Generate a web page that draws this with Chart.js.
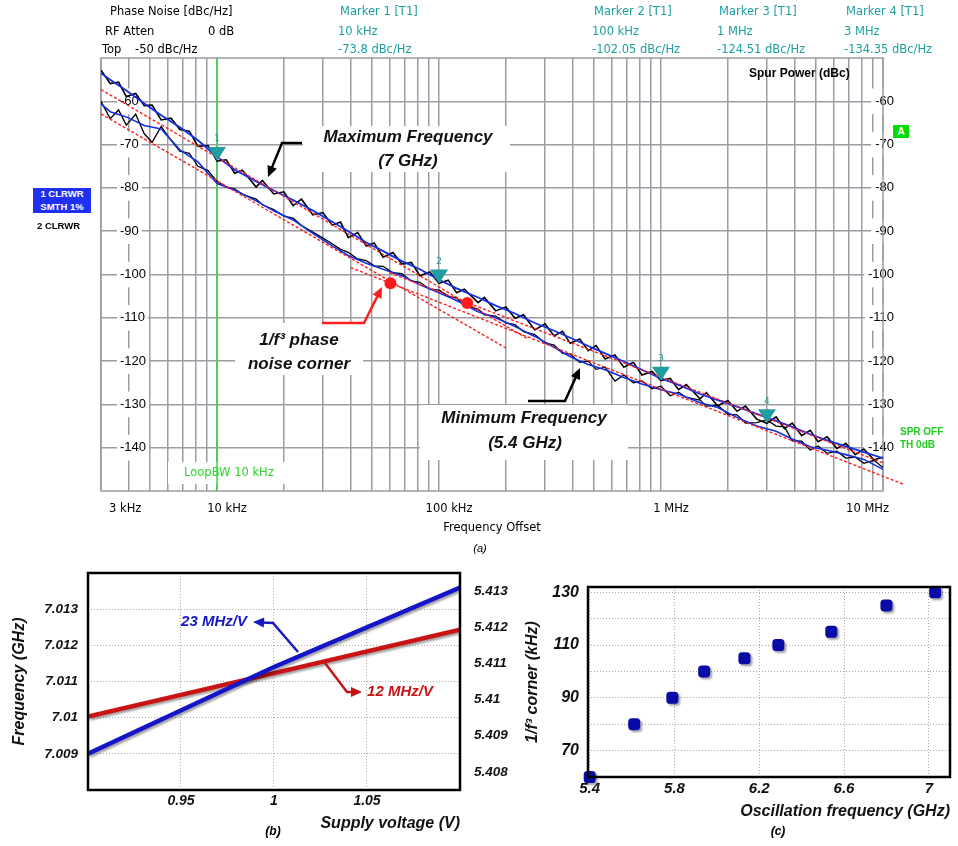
<!DOCTYPE html>
<html>
<head>
<meta charset="utf-8">
<script src="https://cdn.jsdelivr.net/npm/chart.js@4.4.1/dist/chart.umd.min.js"></script>
<style>
  body { margin: 0; background: #fff; width: 958px; height: 846px; position: relative; overflow: hidden; font-family: "DejaVu Sans", sans-serif; }
  canvas { position: absolute; }
  .t { position: absolute; white-space: nowrap; font-size: 11.5px; line-height: 14px; color: #000; }
  .cap { position: absolute; transform: translateX(-50%); font: italic 11px "Liberation Sans", sans-serif; white-space: nowrap; }
</style>
</head>
<body>
<canvas id="chartA" width="958" height="560" style="left:0;top:0"></canvas>
<canvas id="chartB" width="520" height="306" style="left:0;top:540px"></canvas>
<canvas id="chartC" width="438" height="306" style="left:520px;top:540px"></canvas>
<div id="overlay"></div>
<script>
// ---------- (a) phase noise ----------
const freqRaw = [3000, 3300, 3600, 3900, 4300, 4700, 5100, 5600, 6200, 6800, 7500, 8200, 9100,
  10000, 11000, 12000, 13000, 15000, 16000, 18000, 20000, 22000, 24000, 27000, 30000, 33000, 36000, 39000, 43000, 47000, 51000, 56000, 62000, 68000, 75000, 82000, 91000,
  100000, 110000, 120000, 130000, 150000, 160000, 180000, 200000, 220000, 240000, 270000, 300000, 330000, 360000, 390000, 430000, 470000, 510000, 560000, 620000, 680000, 750000, 820000, 910000,
  1000000, 1100000, 1200000, 1300000, 1500000, 1600000, 1800000, 2000000, 2200000, 2400000, 2700000, 3000000, 3300000, 3600000, 3900000, 4300000, 4700000, 5100000, 5600000, 6200000, 6800000, 7500000, 8200000, 9100000,
  10000000];

// 7 GHz, raw trace (black)
const maxRaw = [-52.8, -55.9, -55.6, -58.9, -58.2, -61.0, -60.9, -64.3, -63.9, -66.5, -66.9, -70.4, -70.2,
  -73.8, -73.5, -76.6, -75.9, -79.8, -78.3, -81.4, -80.9, -84.1, -82.6, -86.2, -85.7, -88.6, -87.9, -91.5, -90.3, -93.4, -92.7, -96.0, -94.9, -97.6, -97.2, -100.3, -99.4,
  -102.05, -101.3, -104.2, -103.4, -106.5, -105.3, -108.4, -107.5, -110.1, -109.3, -112.8, -111.4, -114.2, -113.1, -115.9, -114.9, -117.6, -116.4, -119.5, -118.6, -121.4, -120.3, -123.2, -122.4,
  -124.51, -124.0, -126.6, -125.4, -128.7, -127.3, -130.3, -129.1, -131.6, -130.4, -133.4, -134.35, -132.9, -135.6, -134.3, -137.2, -136.0, -138.6, -137.5, -140.2, -139.0, -141.6, -140.3, -142.8,
  -142.2];

// 5.4 GHz, raw trace (black)
const minRaw = [-60.0, -64.0, -62.0, -65.5, -63.0, -67.5, -69.5, -65.8, -69.0, -71.5, -72.0, -75.0, -76.0,
  -78.5, -79.8, -80.2, -81.5, -82.6, -83.9, -85.0, -86.5, -87.0, -88.7, -90.2, -91.6, -92.9, -94.2, -94.9, -96.4, -96.8, -98.0, -98.1, -99.6, -99.8, -101.5, -101.8, -103.4,
  -103.6, -105.0, -105.4, -107.2, -108.0, -109.3, -109.6, -111.2, -111.6, -113.2, -113.9, -115.8, -116.3, -118.2, -118.4, -120.3, -120.0, -121.9, -121.4, -124.6, -123.2, -125.0, -124.6, -126.4,
  -125.8, -128.0, -127.2, -128.4, -129.0, -130.4, -130.2, -132.3, -132.4, -134.3, -134.2, -133.6, -135.0, -135.2, -138.4, -138.5, -140.5, -139.6, -141.3, -140.8, -142.4, -142.2, -143.6, -142.9,
  -144.6];

const freqSmooth = [3000, 3300, 3900, 4700, 5600, 6800, 8200,
  10000, 12000, 15000, 18000, 22000, 27000, 33000, 39000, 47000, 56000, 68000, 82000,
  100000, 120000, 150000, 180000, 220000, 270000, 330000, 390000, 470000, 560000, 680000, 820000,
  1000000, 1200000, 1500000, 1800000, 2200000, 2700000, 3300000, 3900000, 4700000, 5600000, 6800000, 8200000,
  10000000];

// smoothed traces (blue)
const maxSmooth = [-53.5, -55.0, -57.5, -60.5, -63.2, -66.0, -69.0,
  -72.8, -75.8, -78.5, -80.6, -82.8, -85.2, -87.8, -90.0, -92.6, -94.6, -96.9, -98.8,
  -101.2, -103.2, -105.3, -107.2, -109.0, -111.2, -113.0, -114.6, -116.5, -118.2, -120.1, -122.0,
  -124.0, -125.5, -127.6, -129.0, -130.5, -132.2, -133.8, -135.2, -136.9, -138.3, -139.7, -141.0,
  -142.4];
const minSmooth = [-60.6, -62.4, -63.6, -65.6, -66.4, -71.2, -74.0,
  -79.0, -80.5, -83.0, -85.3, -87.4, -90.5, -93.4, -95.6, -97.4, -98.8, -100.3, -102.4,
  -104.2, -106.0, -108.6, -110.0, -112.0, -114.3, -116.8, -119.0, -120.8, -122.0, -123.8, -125.3,
  -126.6, -127.6, -129.6, -130.7, -133.0, -135.0, -136.2, -138.0, -139.8, -140.6, -141.6, -142.7,
  -145.0];

// fitted 1/f^3 and 1/f^2 lines (end points)
const fitMax3F = [3000, 250000], fitMax3V = [-57.3, -114.8];
const fitMax2F = [60000, 10000000], fitMax2V = [-99.6, -143.5];
const fitMin3F = [3000, 200000], fitMin3V = [-62.9, -117.0];
const fitMin2F = [40000, 12300000], fitMin2V = [-98.4, -148.4];

const cornerF = [60400, 134000];
const cornerV = [-102.0, -106.6];

const loopBwF = 10000;

const markerFreqs = [10000, 100000, 1000000, 3000000];
const markerFreqText = ['10 kHz', '100 kHz', '1 MHz', '3 MHz'];
const markerVals = [-73.8, -102.05, -124.51, -134.35];

const yTicksA = [-140, -130, -120, -110, -100, -90, -80, -70, -60];
const xLabelVals = [3000, 10000, 100000, 1000000, 10000000];
const xLabelText = ['3 kHz', '10 kHz', '100 kHz', '1 MHz', '10 MHz'];

// ---------- (b) supply pushing ----------
const supplyV = [0.9, 1.0, 1.1];
const freqHigh = [7.0090, 7.0114, 7.0136];
const freqLow = [5.40953, 5.41073, 5.41193];
const xTicksB = [0.95, 1, 1.05];
const yTicksB = [7.009, 7.01, 7.011, 7.012, 7.013];
const y1TicksB = [5.408, 5.409, 5.41, 5.411, 5.412, 5.413];

// ---------- (c) corner vs frequency ----------
const oscFreq = [5.4, 5.61, 5.79, 5.94, 6.13, 6.29, 6.54, 6.8, 7.03];
const cornerKHz = [60, 80, 90, 100, 105, 110, 115, 125, 130];
const xTicksC = [5.4, 5.8, 6.2, 6.6, 7];
const yTicksC = [70, 80, 90, 100, 110, 120, 130];

const SANS = '"Liberation Sans", Arial, sans-serif';
const DV = '"DejaVu Sans", Verdana, sans-serif';
const GRID = '#9c9ca4';
const TEAL = '#1e9e9e';
const TRACE_BLUE = '#1430e0';
const FIT_RED = '#ff1e1e';

Chart.defaults.font.family = SANS;

const zip = (xs, ys) => xs.map((x, i) => ({ x, y: ys[i] }));

function arrow(ctx, pts, color, width) {
  ctx.save();
  ctx.strokeStyle = color;
  ctx.fillStyle = color;
  ctx.lineWidth = width;
  const n = pts.length;
  const [x1, y1] = pts[n - 2];
  const [x2, y2] = pts[n - 1];
  const a = Math.atan2(y2 - y1, x2 - x1);
  const L = 11, H = 5;
  ctx.beginPath();
  ctx.moveTo(pts[0][0], pts[0][1]);
  for (let i = 1; i < n - 1; i++) ctx.lineTo(pts[i][0], pts[i][1]);
  ctx.lineTo(x2 - L * 0.8 * Math.cos(a), y2 - L * 0.8 * Math.sin(a));
  ctx.stroke();
  ctx.beginPath();
  ctx.moveTo(x2, y2);
  ctx.lineTo(x2 - L * Math.cos(a) + H * Math.sin(a), y2 - L * Math.sin(a) - H * Math.cos(a));
  ctx.lineTo(x2 - L * Math.cos(a) - H * Math.sin(a), y2 - L * Math.sin(a) + H * Math.cos(a));
  ctx.closePath();
  ctx.fill();
  ctx.restore();
}

function lineSet(data, color, width, order, extra) {
  return Object.assign({ data, borderColor: color, borderWidth: width, pointRadius: 0, tension: 0, order }, extra || {});
}

// ---------- chart (a) ----------
const decorA = {
  id: 'decorA',
  beforeDatasetsDraw(chart) {
    const { ctx, chartArea: a } = chart;
    ctx.save();
    ctx.strokeStyle = GRID;
    ctx.lineWidth = 1.5;
    ctx.strokeRect(a.left, a.top, a.right - a.left, a.bottom - a.top);
    ctx.fillStyle = '#fff';
    ctx.fillRect(303, 126, 207, 46);
    ctx.fillRect(235, 323, 128, 52);
    ctx.fillRect(420, 405, 208, 55);
    ctx.fillRect(168, 462, 118, 22);
    ctx.restore();
  },
  afterDatasetsDraw(chart) {
    const { ctx, chartArea: a } = chart;
    const xs = chart.scales.x, ys = chart.scales.y;
    ctx.save();
    // markers
    markerFreqs.forEach((f, i) => {
      const x = xs.getPixelForValue(f), y = ys.getPixelForValue(markerVals[i]);
      ctx.fillStyle = TEAL;
      ctx.beginPath();
      ctx.moveTo(x, y);
      ctx.lineTo(x - 9, y - 14);
      ctx.lineTo(x + 9, y - 14);
      ctx.closePath();
      ctx.fill();
      ctx.font = '9px ' + DV;
      ctx.textAlign = 'center';
      ctx.textBaseline = 'middle';
      ctx.fillText(String(i + 1), x, y - 22);
    });
    // x tick labels
    ctx.font = '11.5px ' + DV;
    ctx.fillStyle = '#000';
    ctx.textAlign = 'left';
    ctx.textBaseline = 'middle';
    xLabelVals.forEach((v, i) => {
      const t = xLabelText[i];
      const w = ctx.measureText(t).width;
      let left = xs.getPixelForValue(v) + 10 - w / 2;
      left = Math.max(left, a.left + 8);
      left = Math.min(left, a.right + 6 - w);
      ctx.fillText(t, left, 509);
    });
    // loop bandwidth label
    ctx.fillStyle = '#2ad42a';
    ctx.fillText('LoopBW 10 kHz', xs.getPixelForValue(loopBwF) - 33, 473);
    // annotations
    ctx.fillStyle = '#111';
    ctx.textAlign = 'center';
    ctx.font = 'italic bold 17px ' + SANS;
    ctx.fillText('Maximum Frequency', 408, 137);
    ctx.fillText('(7 GHz)', 408, 161);
    ctx.fillText('1/f\u00b3 phase', 299, 340);
    ctx.fillText('noise corner', 299, 364);
    ctx.fillText('Minimum Frequency', 524, 418);
    ctx.fillText('(5.4 GHz)', 525, 443);
    ctx.restore();
    arrow(ctx, [[302, 143], [282, 143], [268, 177]], '#000', 2.5);
    arrow(ctx, [[322, 323], [364, 323], [382, 287]], '#ff1e1e', 2.5);
    arrow(ctx, [[528, 401], [565, 401], [580, 368]], '#000', 2.5);
  }
};

new Chart(document.getElementById('chartA'), {
  type: 'line',
  data: {
    datasets: [
      lineSet(zip([loopBwF, loopBwF], [-50, -150]), '#33dd33', 1.5, 10),
      lineSet(zip(freqRaw, maxRaw), '#000', 1.6, 8),
      lineSet(zip(freqRaw, minRaw), '#000', 1.3, 8),
      lineSet(zip(freqSmooth, maxSmooth), TRACE_BLUE, 1.8, 6),
      lineSet(zip(freqSmooth, minSmooth), TRACE_BLUE, 1.6, 6),
      lineSet(zip(fitMax3F, fitMax3V), FIT_RED, 1.4, 4, { borderDash: [3, 2] }),
      lineSet(zip(fitMax2F, fitMax2V), FIT_RED, 1.4, 4, { borderDash: [3, 2] }),
      lineSet(zip(fitMin3F, fitMin3V), FIT_RED, 1.4, 4, { borderDash: [3, 2] }),
      lineSet(zip(fitMin2F, fitMin2V), FIT_RED, 1.4, 4, { borderDash: [3, 2], clip: false }),
      lineSet(zip(cornerF, cornerV), '#ff1a1a', 0, 2, { showLine: false, pointRadius: 6, pointBackgroundColor: '#ff1a1a', pointBorderWidth: 0 })
    ]
  },
  options: {
    animation: false,
    responsive: false,
    layout: { padding: { top: 58, left: 0, right: 0, bottom: 0 } },
    plugins: { legend: { display: false }, tooltip: { enabled: false } },
    scales: {
      x: {
        type: 'logarithmic',
        min: 3000,
        max: 10000000,
        afterBuildTicks: (s) => {
          const ticks = [];
          for (let d = 1000; d <= 1000000; d *= 10) {
            for (let m = 1; m <= 9; m++) {
              const v = m * d;
              if (v >= 3000) ticks.push({ value: v });
            }
          }
          ticks.push({ value: 10000000 });
          s.ticks = ticks;
        },
        afterFit: (s) => { s.height = 69; },
        grid: { color: GRID, lineWidth: 1.5, drawTicks: false },
        border: { display: false },
        ticks: { display: false },
        title: { display: true, text: 'Frequency Offset', color: '#000', font: { family: DV, size: 11.5 }, padding: { top: 0, bottom: 25 } }
      },
      y: {
        min: -150,
        max: -50,
        afterBuildTicks: (s) => { s.ticks = yTicksA.map((v) => ({ value: v })); },
        afterFit: (s) => { s.width = 101; },
        grid: { color: GRID, lineWidth: 1.5, drawTicks: false },
        border: { display: false },
        ticks: {
          mirror: true, padding: 19, color: '#000', font: { family: SANS, size: 13 },
          callback: (v) => String(v),
          showLabelBackdrop: true, backdropColor: '#fff', backdropPadding: { x: 3, y: 5 }
        }
      },
      y2: {
        position: 'right',
        min: -150,
        max: -50,
        afterBuildTicks: (s) => { s.ticks = yTicksA.map((v) => ({ value: v })); },
        afterFit: (s) => { s.width = 75; },
        grid: { display: false, drawTicks: false },
        border: { display: false },
        ticks: {
          mirror: true, padding: 11, color: '#000', font: { family: SANS, size: 13 },
          callback: (v) => String(v),
          showLabelBackdrop: true, backdropColor: '#fff', backdropPadding: { x: 4, y: 5 }
        }
      }
    }
  },
  plugins: [decorA]
});

// ---------- shared for (b) and (c) ----------
const frameAndShadow = {
  id: 'frameAndShadow',
  beforeDatasetsDraw(chart) {
    const ctx = chart.ctx;
    ctx.save();
    ctx.shadowColor = 'rgba(0,0,0,0.35)';
    ctx.shadowOffsetX = 2;
    ctx.shadowOffsetY = 2;
    ctx.shadowBlur = 2;
  },
  afterDatasetsDraw(chart) {
    const { ctx, chartArea: a } = chart;
    ctx.restore();
    ctx.save();
    ctx.strokeStyle = '#000';
    ctx.lineWidth = 2.5;
    ctx.strokeRect(a.left, a.top, a.right - a.left, a.bottom - a.top);
    ctx.restore();
  }
};

const boldItalic = (size) => ({ family: SANS, size, weight: 'bold', style: 'italic' });
const dotted = { color: '#a8a8a8', lineWidth: 1, drawTicks: false };

// ---------- chart (b) ----------
const decorB = {
  id: 'decorB',
  afterDatasetsDraw(chart) {
    const ctx = chart.ctx;
    ctx.save();
    ctx.font = 'italic bold 15px ' + SANS;
    ctx.textAlign = 'center';
    ctx.textBaseline = 'middle';
    ctx.fillStyle = '#1818c0';
    ctx.fillText('23 MHz/V', 214, 82);
    ctx.fillStyle = '#c81414';
    ctx.fillText('12 MHz/V', 400, 152);
    ctx.restore();
    arrow(ctx, [[298, 112], [273, 83], [253, 82]], '#1818c0', 2.5);
    arrow(ctx, [[325, 123], [347, 152], [362, 152]], '#c81414', 2.5);
  }
};

new Chart(document.getElementById('chartB'), {
  type: 'line',
  data: {
    datasets: [
      lineSet(zip(supplyV, freqHigh), '#1414c8', 4.5, 1, { yAxisID: 'y' }),
      lineSet(zip(supplyV, freqLow), '#c81414', 4.5, 2, { yAxisID: 'y1' })
    ]
  },
  options: {
    animation: false,
    responsive: false,
    layout: { padding: { top: 33, left: 0, right: 0, bottom: 0 } },
    plugins: { legend: { display: false }, tooltip: { enabled: false } },
    scales: {
      x: {
        type: 'linear', min: 0.9, max: 1.1,
        afterBuildTicks: (s) => { s.ticks = xTicksB.map((v) => ({ value: v })); },
        afterFit: (s) => { s.height = 56; },
        grid: dotted,
        border: { display: false, dash: [1, 2] },
        ticks: { padding: 3, color: '#111', font: boldItalic(14), callback: (v) => String(v) },
        title: { display: true, text: 'Supply voltage (V)', align: 'end', color: '#111', font: boldItalic(16), padding: { top: 0, bottom: 13 } }
      },
      y: {
        min: 7.008, max: 7.014,
        afterBuildTicks: (s) => { s.ticks = yTicksB.map((v) => ({ value: v })); },
        afterFit: (s) => { s.width = 88; },
        grid: dotted,
        border: { display: false, dash: [1, 2] },
        ticks: { padding: 10, color: '#111', font: boldItalic(13.5), callback: (v) => String(v) },
        title: { display: true, text: 'Frequency (GHz)', color: '#111', font: boldItalic(16), padding: { top: 10, bottom: 0 } }
      },
      y1: {
        position: 'right', min: 5.4075, max: 5.4135,
        afterBuildTicks: (s) => { s.ticks = y1TicksB.map((v) => ({ value: v })); },
        afterFit: (s) => { s.width = 60; },
        grid: { display: false, drawTicks: false },
        border: { display: false },
        ticks: { padding: 14, color: '#111', font: boldItalic(13.5), callback: (v) => String(v) }
      }
    }
  },
  plugins: [frameAndShadow, decorB]
});

// ---------- chart (c) ----------
new Chart(document.getElementById('chartC'), {
  type: 'scatter',
  data: {
    datasets: [{
      data: zip(oscFreq, cornerKHz),
      pointStyle: 'rectRounded',
      pointRadius: 7,
      backgroundColor: '#0a0aa8',
      borderColor: '#0a0aa8',
      borderWidth: 0,
      clip: false
    }]
  },
  options: {
    animation: false,
    responsive: false,
    layout: { padding: { top: 47, left: 0, right: 8, bottom: 0 } },
    plugins: { legend: { display: false }, tooltip: { enabled: false } },
    scales: {
      x: {
        type: 'linear', min: 5.392, max: 7.1,
        afterBuildTicks: (s) => { s.ticks = xTicksC.map((v) => ({ value: v })); },
        afterFit: (s) => { s.height = 69; },
        grid: dotted,
        border: { display: false, dash: [1, 2] },
        ticks: { padding: 3, color: '#111', font: boldItalic(15), callback: (v) => String(v) },
        title: { display: true, text: 'Oscillation frequency (GHz)', align: 'end', color: '#111', font: boldItalic(16), padding: { top: 0, bottom: 25 } }
      },
      y: {
        min: 60, max: 132,
        afterBuildTicks: (s) => { s.ticks = yTicksC.map((v) => ({ value: v })); },
        afterFit: (s) => { s.width = 68; },
        grid: dotted,
        border: { display: false, dash: [1, 2] },
        ticks: { padding: 9, color: '#111', font: boldItalic(16), callback: (v) => (v % 20 === 10 ? String(v) : '') },
        title: { display: true, text: '1/f\u00b3 corner (kHz)', color: '#111', font: boldItalic(16), padding: { top: 3, bottom: 0 } }
      }
    }
  },
  plugins: [frameAndShadow]
});

// ---------- header / side texts ----------
const overlay = document.getElementById('overlay');
function put(text, left, top, style, cls) {
  const el = document.createElement('div');
  el.className = cls || 't';
  el.textContent = text;
  el.style.left = left + 'px';
  el.style.top = top + 'px';
  if (style) el.style.cssText += style;
  overlay.appendChild(el);
  return el;
}
put('Phase Noise [dBc/Hz]', 110, 4);
put('RF Atten', 105, 24);
put('0 dB', 208, 24);
put('Top', 102, 42);
put('-50 dBc/Hz', 135, 42);
const markerCols = [338, 592, 717, 844];
markerFreqs.forEach((f, i) => {
  put('Marker ' + (i + 1) + ' [T1]', markerCols[i] + 2, 4, 'color:' + TEAL);
  put(markerFreqText[i], markerCols[i], 24, 'color:' + TEAL);
  put(markerVals[i] + ' dBc/Hz', markerCols[i], 42, 'color:' + TEAL);
});
put('Spur Power (dBc)', 749, 66, 'font:bold 12px "Liberation Sans",sans-serif;');
put('1 CLRWR\nSMTH 1%', 33, 188, 'width:58px;height:25px;background:#2030f0;color:#fff;white-space:pre;text-align:center;font:bold 9.5px/12.5px "Liberation Sans",sans-serif;');
put('2 CLRWR', 37, 220, 'font:bold 9.5px "Liberation Sans",sans-serif;');
put('A', 893, 125, 'width:16px;height:13px;background:#00dd00;color:#fff;text-align:center;font:bold 10px/13px "Liberation Sans",sans-serif;');
put('SPR OFF', 900, 426, 'color:#22cc22;font:bold 10px "Liberation Sans",sans-serif;');
put('TH 0dB', 900, 439, 'color:#22cc22;font:bold 10px "Liberation Sans",sans-serif;');
put('(a)', 480, 542, '', 'cap');
put('(b)', 273, 824, 'font:italic bold 12px "Liberation Sans",sans-serif;', 'cap');
put('(c)', 778, 824, 'font:italic bold 12px "Liberation Sans",sans-serif;', 'cap');
</script>
</body>
</html>
